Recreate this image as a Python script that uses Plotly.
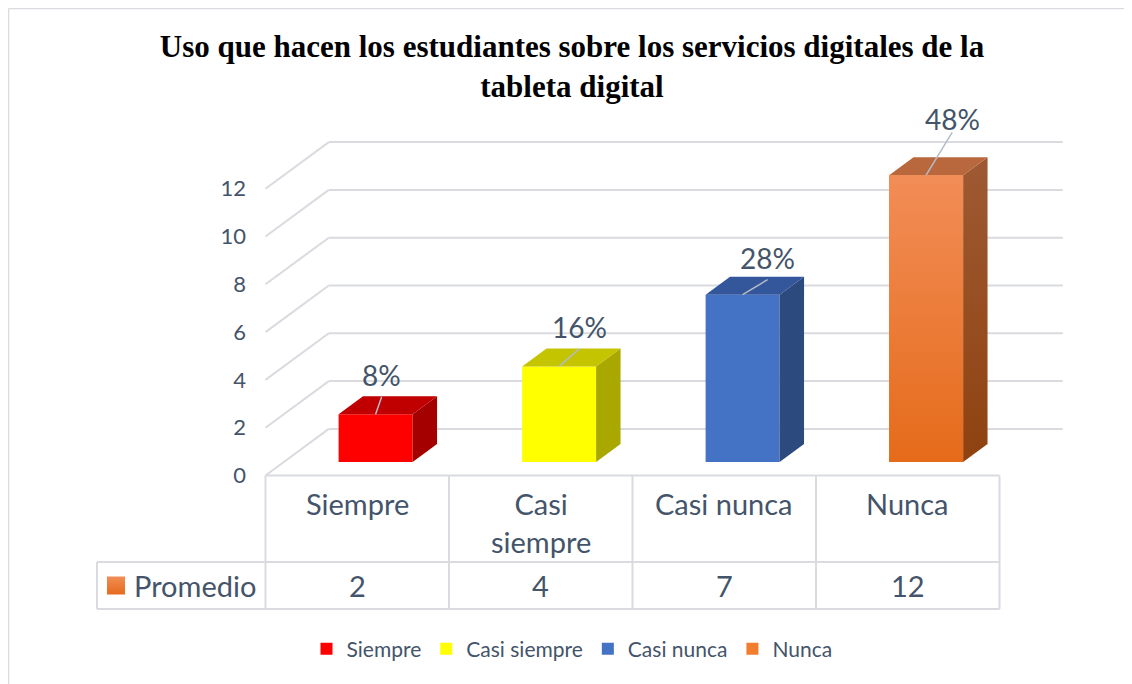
import textwrap
import plotly.graph_objects as go

# ---------------- data ----------------
categories = ["Siempre", "Casi siempre", "Casi nunca", "Nunca"]
promedio = [2, 4, 7, 12]
series_name = "Promedio"
y_ticks = [0, 2, 4, 6, 8, 10, 12]
title_text = "Uso que hacen los estudiantes sobre los servicios digitales de la<br>tableta digital"

# ---------------- styles ----------------
front_colors = ["#FF0000", "#FFFF00", "#4472C4", "#F07E2E"]
top_colors = ["#C00000", "#C4C400", "#33579A", "#B8683C"]
side_colors = ["#A50000", "#A8A800", "#2C4A7E", "#96501F"]
front_grad = [None, None, None, [[0, "#E56B1A"], [1, "#F28D57"]]]
side_grad = [None, None, None, [[0, "#8F4210"], [1, "#9E5A33"]]]
label_dx = [0.033, 0.11, 0.136, 0.142]      # label shift (category units)
label_lift = [1.63, 1.63, 1.55, 2.34]       # label lift (value units)
label_gap = [0.9, 0.9, 0.92, 0.55]

TXT = "#44546A"
GRID = "#D9DBE0"
FONT = "Lato"

W, H = 1132, 684
OFF = 8  # page body margin
# pixel mapping: category 0 at px 265.5, 183.5 px per category; value 0 at px 475.5, 23.9 px per unit
PXC, X0P = 183.5, 265.5 - OFF
PXV, Y0P = 23.9, 475.5 - OFF
xr = [(0 - X0P) / PXC, (W - X0P) / PXC]
yr = [(Y0P - H) / PXV, (Y0P - 0) / PXV]

def px_x(p):
    return (p - OFF - X0P) / PXC

def px_y(p):
    return (Y0P - (p - OFF)) / PXV

DX = 63.3 / PXC      # floor depth in category units
DY = 46.6 / PXV      # floor depth in value units
F0 = 0.29            # bar front depth fraction
FD = 0.386           # bar depth fraction
BW = 74 / PXC        # bar width

b0 = F0 * DY
ddx, ddy = FD * DX, FD * DY
centers = [i + 0.5 + F0 * DX for i in range(len(categories))]

fig = go.Figure()
shapes = []

# back wall gridlines and left wall diagonals
for v in y_ticks:
    shapes.append(dict(type="line", xref="x", yref="y", layer="below",
                       x0=DX, x1=len(categories) + DX, y0=v + DY, y1=v + DY,
                       line=dict(color=GRID, width=2)))
    shapes.append(dict(type="line", xref="x", yref="y", layer="below",
                       x0=0, x1=DX, y0=v, y1=v + DY,
                       line=dict(color=GRID, width=2)))

# front faces (bars)
for i, (c, v) in enumerate(zip(categories, promedio)):
    fig.add_trace(go.Bar(x=[centers[i]], y=[v], base=[b0], width=BW, name=c,
                         marker=dict(color=front_colors[i], line=dict(width=0)),
                         hoverinfo="skip"))

# side and top faces, gradients, leader lines
for i, v in enumerate(promedio):
    cx = centers[i]
    xl, xrr = cx - BW / 2, cx + BW / 2
    top_y = v + b0
    side = go.Scatter(x=[xrr, xrr, xrr + ddx, xrr + ddx, xrr],
                      y=[b0, top_y, top_y + ddy, b0 + ddy, b0],
                      mode="lines", fill="toself", line=dict(width=0),
                      fillcolor=side_colors[i], showlegend=False, hoverinfo="skip")
    if side_grad[i]:
        side.fillgradient = dict(type="vertical", colorscale=side_grad[i])
    fig.add_trace(side)
    fig.add_trace(go.Scatter(x=[xl, xrr, xrr + ddx, xl + ddx, xl],
                             y=[top_y, top_y, top_y + ddy, top_y + ddy, top_y],
                             mode="lines", fill="toself", line=dict(width=0),
                             fillcolor=top_colors[i], showlegend=False, hoverinfo="skip"))
    if front_grad[i]:
        fig.add_trace(go.Scatter(x=[xl, xrr, xrr, xl, xl],
                                 y=[b0, b0, top_y, top_y, b0],
                                 mode="lines", fill="toself", line=dict(width=0),
                                 fillgradient=dict(type="vertical", colorscale=front_grad[i]),
                                 showlegend=False, hoverinfo="skip"))
    # leader line
    lx = cx + label_dx[i]
    ly = top_y + label_lift[i]
    fig.add_trace(go.Scatter(x=[cx, lx], y=[top_y, ly - label_gap[i]], mode="lines",
                             line=dict(color="#B4BCC8", width=1.5),
                             showlegend=False, hoverinfo="skip"))

# data labels (percent of total)
total = sum(promedio)
annotations = []
for i, v in enumerate(promedio):
    pct = round(v / total * 100)
    annotations.append(dict(x=centers[i] + label_dx[i], y=v + b0 + label_lift[i],
                            xref="x", yref="y", text=f"{pct}%", showarrow=False,
                            font=dict(family=FONT, size=28, color=TXT),
                            xanchor="center", yanchor="middle"))

# data table
n = len(categories)
row1_bot = px_y(562)
row2_bot = px_y(609)
left_cell = px_x(97)
tcol = dict(color=GRID, width=2)
shapes.append(dict(type="line", xref="x", yref="y", x0=0, x1=n, y0=0, y1=0, line=tcol))
shapes.append(dict(type="line", xref="x", yref="y", x0=left_cell, x1=n, y0=row1_bot, y1=row1_bot, line=tcol))
shapes.append(dict(type="line", xref="x", yref="y", x0=left_cell, x1=n, y0=row2_bot, y1=row2_bot, line=tcol))
shapes.append(dict(type="line", xref="x", yref="y", x0=left_cell, x1=left_cell, y0=row1_bot, y1=row2_bot, line=tcol))
for k in range(n + 1):
    shapes.append(dict(type="line", xref="x", yref="y", x0=k, x1=k, y0=0, y1=row2_bot, line=tcol))

row_mid = (row1_bot + row2_bot) / 2
for i, (c, v) in enumerate(zip(categories, promedio)):
    annotations.append(dict(x=i + 0.5, y=px_y(484), xref="x", yref="y",
                            text="<br>".join(textwrap.wrap(c, 10)), showarrow=False,
                            font=dict(family=FONT, size=29, color=TXT),
                            xanchor="center", yanchor="top"))
    annotations.append(dict(x=i + 0.5, y=row_mid, xref="x", yref="y", text=str(v),
                            showarrow=False, font=dict(family=FONT, size=29, color=TXT),
                            xanchor="center", yanchor="middle"))
annotations.append(dict(x=px_x(132), y=row_mid, xref="x", yref="y", text=series_name,
                        showarrow=False, font=dict(family=FONT, size=29, color=TXT),
                        xanchor="left", yanchor="middle"))
key_c = px_x(116)
key_hw, key_hh = 9 / PXC, 9 / PXV
fig.add_trace(go.Scatter(x=[key_c - key_hw, key_c + key_hw, key_c + key_hw, key_c - key_hw, key_c - key_hw],
                         y=[row_mid - key_hh, row_mid - key_hh, row_mid + key_hh, row_mid + key_hh, row_mid - key_hh],
                         mode="lines", fill="toself", line=dict(width=0),
                         fillgradient=dict(type="vertical", colorscale=front_grad[3]),
                         showlegend=False, hoverinfo="skip"))

# chart border (top & left)
shapes.append(dict(type="line", xref="paper", yref="paper", x0=0.5 / W, x1=1, y0=1 - 0.5 / H, y1=1 - 0.5 / H,
                   line=dict(color="#D9DBE0", width=1.5)))
shapes.append(dict(type="line", xref="paper", yref="paper", x0=0.5 / W, x1=0.5 / W, y0=0, y1=1 - 0.5 / H,
                   line=dict(color="#D9DBE0", width=1.5)))

fig.update_layout(
    width=W, height=H,
    margin=dict(l=0, r=0, t=0, b=0),
    paper_bgcolor="white", plot_bgcolor="white",
    barmode="overlay",
    title=dict(text=title_text, x=(572 - OFF) / W, xanchor="center", y=1 - (57 - OFF) / H, yanchor="middle",
               font=dict(family="Liberation Serif", size=31, color="black", weight="bold")),
    xaxis=dict(range=xr, visible=False, fixedrange=True),
    yaxis=dict(range=yr, anchor="free", position=(246 - OFF) / W, side="left",
               tickmode="array", tickvals=y_ticks, ticktext=[str(t) for t in y_ticks],
               showgrid=False, zeroline=False, showline=False, ticks="",
               tickfont=dict(family=FONT, size=22, color=TXT), automargin=False),
    legend=dict(orientation="h", x=(572 - OFF) / W, xanchor="center", y=1 - (649 - OFF) / H, yanchor="middle",
                font=dict(family=FONT, size=21, color=TXT), traceorder="normal",
                itemclick=False, itemdoubleclick=False),
    shapes=shapes,
    annotations=annotations,
    showlegend=True,
)

fig.write_html("out.html")
